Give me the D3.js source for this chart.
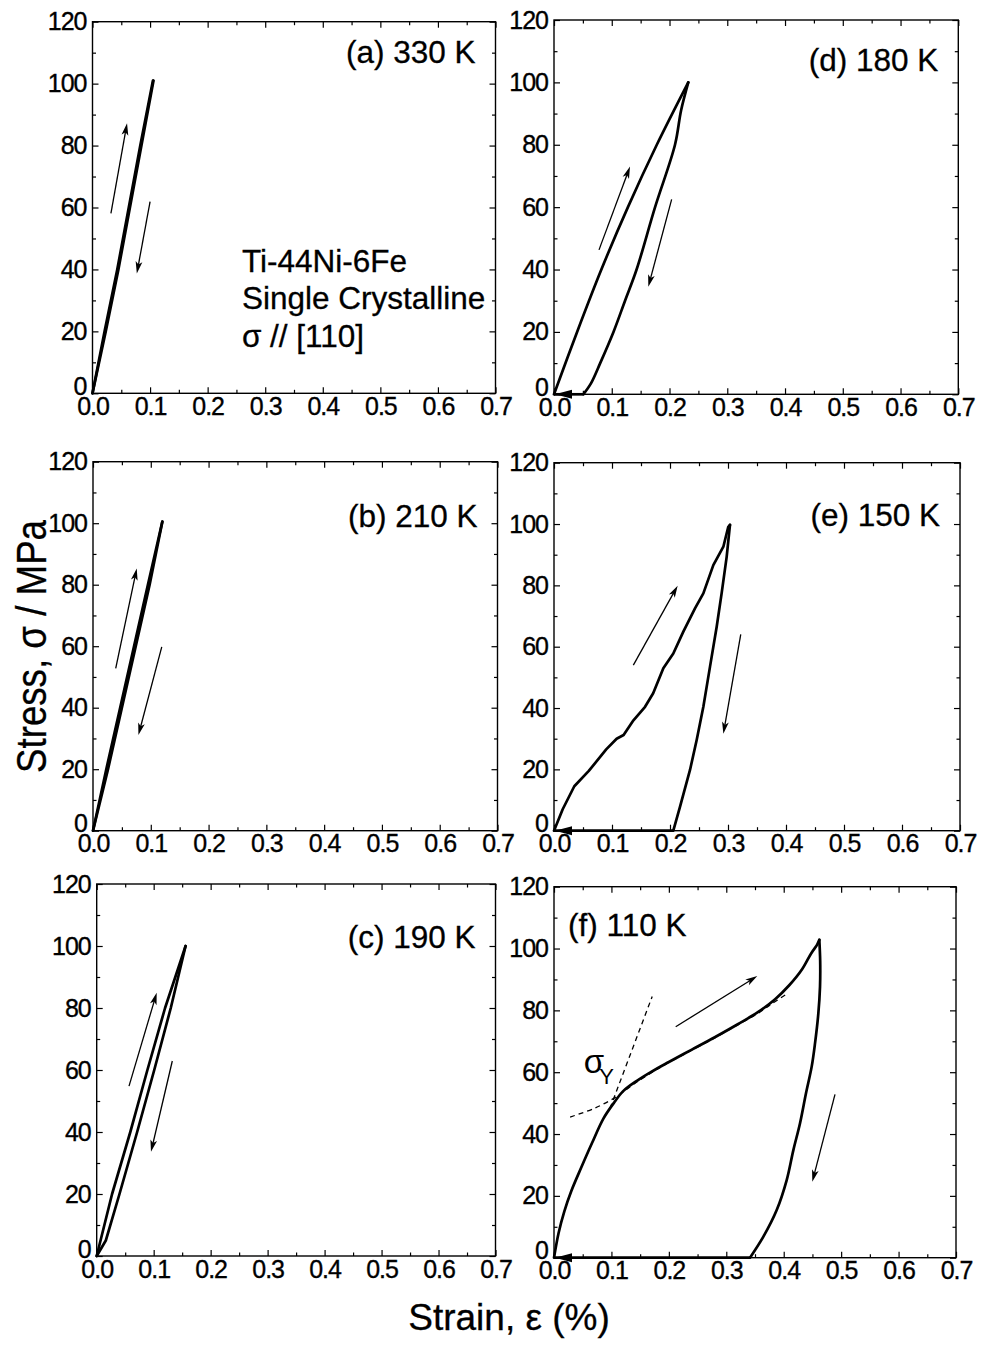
<!DOCTYPE html>
<html>
<head>
<meta charset="utf-8">
<script src="https://cdn.jsdelivr.net/npm/d3@7"></script>
<style>
  body { margin: 0; background: #fff; }
  svg text { font-family: "Liberation Sans", Arial, sans-serif; fill: #000; }
</style>
</head>
<body>
<svg id="chart" width="983" height="1350"></svg>
<script>
// ---- axis ticks ----
const strainTicks = [0, 0.1, 0.2, 0.3, 0.4, 0.5, 0.6, 0.7];
const strainMinor = [0.05, 0.15, 0.25, 0.35, 0.45, 0.55, 0.65];
const stressTicks = [0, 20, 40, 60, 80, 100, 120];
const stressMinor = [10, 30, 50, 70, 90, 110];

// ---- panel labels ----
const panelIds = ["a", "b", "c", "d", "e", "f"];
const panelLabels = ["(a) 330 K", "(b) 210 K", "(c) 190 K", "(d) 180 K", "(e) 150 K", "(f) 110 K"];

// ---- stress–strain curves: [strain %, stress MPa] ----
const loadA = [[0,0],[0.021,20],[0.043,40],[0.063,60],[0.083,80],[0.105,101]];
const unloadA = [[0.106,101],[0.085,80],[0.065,60],[0.045,40],[0.023,20],[0,0]];

const loadB = [[0,0],[0.023,20],[0.047,40],[0.071,60],[0.095,80],[0.12,100.5]];
const unloadB = [[0.12,100.5],[0.098,80],[0.074,60],[0.05,40],[0.026,20],[0,0]];

const loadC = [[0,0],[0.004,3],[0.027,20],[0.059,40],[0.089,60],[0.12,80],[0.156,100]];
const unloadC = [[0.156,100],[0.13,80],[0.101,60],[0.071,40],[0.04,20],[0.016,5],[0,0]];

const loadD = [[0,0],[0.04,20],[0.082,40],[0.128,60],[0.178,80],[0.2325,100]];
const unloadD = [[0.2325,100],[0.22,91],[0.2095,80],[0.175,60],[0.143,40],[0.123,30],[0.103,20],
  [0.08,10],[0.064,3.5],[0.0508,0]];

const loadE = [[0,0],[0.015,7],[0.035,14.5],[0.06,19.5],[0.09,26.5],[0.108,30],[0.12,31.2],[0.137,36],
  [0.157,40.4],[0.171,44.8],[0.1885,53],[0.2057,57.8],[0.223,64.9],[0.2431,72.5],[0.2575,77.4],
  [0.2747,86.6],[0.292,92.6],[0.3005,99.1],[0.3034,99.7]];
const unloadE = [[0.3034,99.7],[0.2977,89.3],[0.289,77.4],[0.2805,66.5],[0.269,53.5],[0.2575,40.4],
  [0.246,29.6],[0.2345,19.8],[0.2172,7.8],[0.2057,0]];

const loadF = [[0,0],[0.008,8],[0.018,15],[0.03,21.5],[0.048,29.4],[0.066,37],[0.086,45],[0.104,50],
  [0.12,53.8],[0.145,57.3],[0.17,60.2],[0.2,63.3],[0.24,67.3],[0.28,71.3],[0.32,75.5],[0.355,79.4],
  [0.385,83.6],[0.41,88.2],[0.432,93.3],[0.448,98.5],[0.458,101.2],[0.462,102.8]];
const unloadF = [[0.462,102.8],[0.4635,96],[0.4632,87.6],[0.4603,79],[0.4545,69.3],[0.4487,61.8],
  [0.4388,53.2],[0.4284,43.5],[0.4168,34.8],[0.4052,25.1],[0.3878,15.4],[0.3646,6.8],[0.3413,0]];

// residual strain after unloading (returned to zero along the strain axis)
const residualD = 0.0508, residualE = 0.2057, residualF = 0.3413;

// yield construction lines in (f)
const yieldSteepF = [[0.0975,48.3],[0.171,84.5]];
const yieldPlateauF = [[0.028,45.5],[0.07,48.3],[0.11,52.2],[0.14,56.3],[0.19,62.1],[0.24,67.1],
  [0.28,71.1],[0.32,75.3],[0.355,79.0],[0.38,82.2],[0.405,85.3]];

// loading / unloading direction arrows: [from, to] in [strain, stress]
const arrowsA = [[[0.032,58.1],[0.06,87.2]], [[0.1,61.9],[0.077,38.7]]];
const arrowsB = [[[0.0393,52.8],[0.0757,85.3]], [[0.119,59.8],[0.0786,31.1]]];
const arrowsC = [[[0.0567,54.8],[0.1053,84.9]], [[0.1327,62.9],[0.0953,33.6]]];
const arrowsD = [[[0.0779,46.3],[0.1316,73.0]], [[0.2037,62.5],[0.1633,34.5]]];
const arrowsE = [[[0.1368,54.0],[0.2132,79.9]], [[0.322,64.0],[0.292,31.6]]];
const arrowsF = [[[0.2119,74.7],[0.354,91.1]], [[0.4893,52.8],[0.4498,24.6]]];

const sampleLines = ["Ti-44Ni-6Fe", "Single Crystalline", "σ // [110]"];

// ---- layout (pixel frames of each panel) ----
const frames = {
  a: {x0: 92.5, x1: 495.5, y0: 393.3, y1: 21.7},
  b: {x0: 93,   x1: 497.5, y0: 830.7, y1: 461.7},
  c: {x0: 96.7, x1: 495.5, y0: 1256,  y1: 884},
  d: {x0: 554,  x1: 958.3, y0: 394.3, y1: 20},
  e: {x0: 554,  x1: 960,   y0: 830.7, y1: 462.7},
  f: {x0: 554,  x1: 956,   y0: 1257.7, y1: 886.7}
};
// label anchor: stress value of the baseline, and alignment
const labelPlacement = {
  a: {stress: 106.6, align: "end"},
  b: {stress: 98.7,  align: "end"},
  c: {stress: 99.3,  align: "end"},
  d: {stress: 103.7, align: "end"},
  e: {stress: 99.3,  align: "end"},
  f: {stress: 104,   align: "start"}
};

const panels = {
  a: {load: loadA, unload: unloadA, arrows: arrowsA, smooth: false},
  b: {load: loadB, unload: unloadB, arrows: arrowsB, smooth: false},
  c: {load: loadC, unload: unloadC, arrows: arrowsC, smooth: false},
  d: {load: loadD, unload: unloadD, arrows: arrowsD, residual: residualD, smooth: true},
  e: {load: loadE, unload: unloadE, arrows: arrowsE, residual: residualE, smooth: false},
  f: {load: loadF, unload: unloadF, arrows: arrowsF, residual: residualF, smooth: true}
};

const svg = d3.select("#chart");
const tickFont = 25;

function drawArrow(g, x, y, from, to) {
  const x1 = x(from[0]), y1 = y(from[1]), x2 = x(to[0]), y2 = y(to[1]);
  const ang = Math.atan2(y2 - y1, x2 - x1);
  const len = 12, half = 3.4;
  const bx = x2 - len * Math.cos(ang), by = y2 - len * Math.sin(ang);
  g.append("line")
    .attr("x1", x1).attr("y1", y1)
    .attr("x2", x2 - 6 * Math.cos(ang)).attr("y2", y2 - 6 * Math.sin(ang))
    .attr("stroke", "#000").attr("stroke-width", 1.3);
  const nx = -Math.sin(ang), ny = Math.cos(ang);
  const notchX = x2 - (len - 3) * Math.cos(ang), notchY = y2 - (len - 3) * Math.sin(ang);
  g.append("path")
    .attr("d", `M${x2},${y2} L${bx + nx * half},${by + ny * half} L${notchX},${notchY} L${bx - nx * half},${by - ny * half} Z`)
    .attr("fill", "#000");
}

panelIds.forEach((id, i) => {
  const f = frames[id];
  const p = panels[id];
  const x = d3.scaleLinear().domain([0, 0.7]).range([f.x0, f.x1]);
  const y = d3.scaleLinear().domain([0, 120]).range([f.y0, f.y1]);
  const g = svg.append("g").attr("class", "panel-" + id);

  // frame
  g.append("rect")
    .attr("x", f.x0).attr("y", f.y1)
    .attr("width", f.x1 - f.x0).attr("height", f.y0 - f.y1)
    .attr("fill", "none").attr("stroke", "#000").attr("stroke-width", 1.4);

  const styleAxis = sel => {
    sel.select(".domain").remove();
    sel.selectAll(".tick line").attr("stroke", "#000").attr("stroke-width", 1.2);
    sel.selectAll(".tick text")
      .attr("font-size", tickFont).attr("letter-spacing", -1)
      .attr("font-family", "Liberation Sans, Arial, sans-serif").attr("fill", "#000")
      .attr("stroke", "#000").attr("stroke-width", 0.35);
  };

  // bottom & left axes with labels, inward ticks
  g.append("g").attr("transform", `translate(0,${f.y0})`)
    .call(d3.axisBottom(x).tickValues(strainTicks).tickSize(-6).tickPadding(4).tickFormat(d3.format(".1f")))
    .call(styleAxis);
  g.append("g").attr("transform", `translate(0,${f.y0})`)
    .call(d3.axisBottom(x).tickValues(strainMinor).tickSize(-3.5).tickFormat(""))
    .call(styleAxis);
  const yAxisG = g.append("g").attr("transform", `translate(${f.x0},0)`)
    .call(d3.axisLeft(y).tickValues(stressTicks).tickSize(-6).tickPadding(6).tickFormat(d3.format("d")))
    .call(styleAxis);
  // lift the "0" so it sits above the strain labels
  yAxisG.selectAll(".tick").filter(d => d === 0).select("text").attr("y", -7);
  g.append("g").attr("transform", `translate(${f.x0},0)`)
    .call(d3.axisLeft(y).tickValues(stressMinor).tickSize(-3.5).tickFormat(""))
    .call(styleAxis);
  // top & right mirror ticks
  g.append("g").attr("transform", `translate(0,${f.y1})`)
    .call(d3.axisTop(x).tickValues(strainTicks).tickSize(-6).tickFormat(""))
    .call(styleAxis);
  g.append("g").attr("transform", `translate(0,${f.y1})`)
    .call(d3.axisTop(x).tickValues(strainMinor).tickSize(-3.5).tickFormat(""))
    .call(styleAxis);
  g.append("g").attr("transform", `translate(${f.x1},0)`)
    .call(d3.axisRight(y).tickValues(stressTicks).tickSize(-6).tickFormat(""))
    .call(styleAxis);
  g.append("g").attr("transform", `translate(${f.x1},0)`)
    .call(d3.axisRight(y).tickValues(stressMinor).tickSize(-3.5).tickFormat(""))
    .call(styleAxis);

  const line = d3.line().x(d => x(d[0])).y(d => y(d[1]))
    .curve(p.smooth ? d3.curveCatmullRom.alpha(0.5) : d3.curveLinear);

  // yield construction (dashed) under the curve
  if (id === "f") {
    const dline = d3.line().x(d => x(d[0])).y(d => y(d[1])).curve(d3.curveCatmullRom.alpha(0.5));
    [yieldSteepF, yieldPlateauF].forEach(pts => {
      g.append("path").attr("d", dline(pts))
        .attr("fill", "none").attr("stroke", "#000")
        .attr("stroke-width", 1.3).attr("stroke-dasharray", "5,4");
    });
  }

  // loading and unloading curves
  [p.load, p.unload].forEach(pts => {
    g.append("path").attr("d", line(pts))
      .attr("fill", "none").attr("stroke", "#000")
      .attr("stroke-width", 2.7).attr("stroke-linejoin", "round").attr("stroke-linecap", "round");
  });

  // return to origin along the strain axis, with arrowhead
  if (p.residual !== undefined) {
    g.append("line")
      .attr("x1", x(p.residual)).attr("y1", y(0))
      .attr("x2", x(0)).attr("y2", y(0))
      .attr("stroke", "#000").attr("stroke-width", 2.7);
    const ox = x(0), oy = y(0);
    g.append("path")
      .attr("d", `M${ox + 1},${oy} L${ox + 18},${oy - 4.5} L${ox + 18},${oy + 4.5} Z`)
      .attr("fill", "#000");
  }

  // direction arrows
  p.arrows.forEach(a => drawArrow(g, x, y, a[0], a[1]));

  // panel label
  const lp = labelPlacement[id];
  g.append("text")
    .attr("x", lp.align === "end" ? f.x1 - 20 : f.x0 + 14)
    .attr("y", y(lp.stress))
    .attr("text-anchor", lp.align)
    .attr("font-size", 31.5)
    .attr("stroke", "#000").attr("stroke-width", 0.3)
    .text(panelLabels[i]);

  if (id === "a") {
    const sx = x(0.2595);
    [39.3, 27.2, 15.0].forEach((s, k) => {
      g.append("text").attr("x", sx).attr("y", y(s))
        .attr("font-size", 31.5)
        .attr("stroke", "#000").attr("stroke-width", 0.3)
        .text(sampleLines[k]);
    });
  }

  if (id === "f") {
    g.append("text").attr("x", x(0.052)).attr("y", y(59.6))
      .attr("font-size", 33).text("σ");
    g.append("text").attr("x", x(0.079)).attr("y", y(56.3))
      .attr("font-size", 22).text("Y");
  }
});

// shared axis titles
svg.append("text")
  .attr("transform", "translate(46,646.5) rotate(-90)")
  .attr("text-anchor", "middle")
  .attr("font-size", 42)
  .attr("textLength", 253).attr("lengthAdjust", "spacingAndGlyphs")
  .attr("stroke", "#000").attr("stroke-width", 0.3)
  .text("Stress, σ / MPa");

svg.append("text")
  .attr("x", 509).attr("y", 1330)
  .attr("text-anchor", "middle")
  .attr("font-size", 37)
  .attr("stroke", "#000").attr("stroke-width", 0.3)
  .text("Strain, ε (%)");
</script>
</body>
</html>
